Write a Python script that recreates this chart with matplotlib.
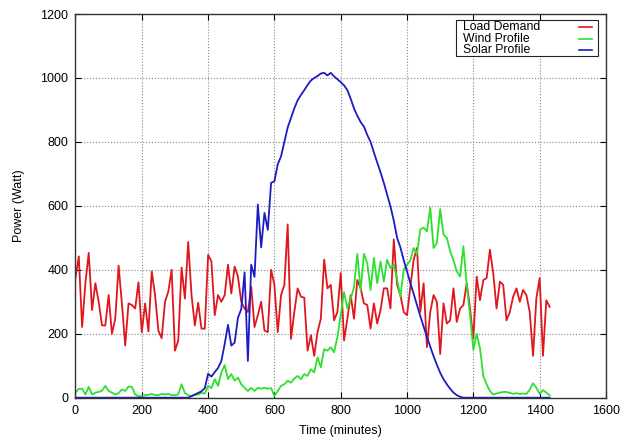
import numpy as np
import matplotlib
matplotlib.use("Agg")
import matplotlib.pyplot as plt
from matplotlib.patches import Rectangle

# Power profiles sampled every 10 minutes over one day
timeMinutes = list(range(0, 1440, 10))

loadDemand = [
    375, 442, 221, 360, 453, 274, 358, 300, 226, 226,
    321, 200, 247, 413, 295, 163, 295, 290, 279, 361,
    205, 295, 207, 395, 321, 210, 186, 300, 332, 400,
    147, 179, 407, 310, 487, 321, 226, 297, 216, 216,
    447, 426, 258, 321, 300, 321, 416, 326, 410, 379,
    300, 279, 268, 347, 221, 258, 300, 210, 205, 400,
    353, 205, 321, 353, 542, 184, 268, 342, 316, 313,
    147, 195, 131, 205, 247, 432, 342, 353, 242, 268,
    390, 179, 247, 321, 247, 368, 342, 295, 290, 216,
    295, 232, 274, 342, 342, 279, 495, 353, 321, 268,
    258, 347, 432, 468, 268, 358, 158, 268, 321, 300,
    137, 295, 232, 242, 342, 237, 279, 290, 358, 279,
    184, 379, 305, 368, 374, 463, 389, 279, 363, 353,
    242, 268, 316, 342, 300, 337, 321, 268, 131, 311,
    374, 131, 305, 284,
]

windProfile = [
    16, 28, 28, 10, 34, 10, 16, 18, 22, 37,
    21, 16, 10, 14, 26, 21, 35, 34, 10, 5,
    5, 8, 9, 12, 8, 8, 12, 10, 12, 8,
    8, 10, 42, 15, 8, 5, 8, 10, 15, 13,
    37, 30, 58, 37, 79, 102, 58, 74, 53, 63,
    42, 31, 21, 31, 21, 31, 28, 31, 28, 30,
    5, 21, 37, 42, 53, 47, 60, 68, 58, 74,
    68, 89, 79, 126, 95, 152, 147, 158, 142, 190,
    260, 330, 280, 310, 345, 450, 335, 450, 421, 337,
    437, 358, 426, 363, 432, 405, 416, 370, 316, 400,
    416, 430, 468, 450, 526, 532, 520, 595, 468, 484,
    590, 510, 500, 458, 430, 395, 379, 474, 353, 258,
    150, 200, 155, 68, 42, 21, 10, 13, 16, 18,
    18, 15, 12, 14, 12, 13, 12, 25, 45, 31,
    12, 24, 16, 8,
]

solarProfile = [
    0, 0, 0, 0, 0, 0, 0, 0, 0, 0,
    0, 0, 0, 0, 0, 0, 0, 0, 0, 0,
    0, 0, 0, 0, 0, 0, 0, 0, 0, 0,
    0, 0, 0, 0, 0, 5, 10, 15, 20, 30,
    75, 66, 80, 93, 115, 168, 228, 163, 172, 250,
    277, 392, 115, 416, 378, 604, 470, 578, 525, 672,
    677, 730, 755, 800, 845, 875, 905, 930, 947, 962,
    978, 992, 1000, 1006, 1014, 1016, 1008, 1016, 1005, 996,
    987, 977, 962, 935, 905, 882, 862, 848, 822, 800,
    767, 736, 705, 672, 635, 598, 554, 500, 470, 430,
    395, 358, 325, 290, 255, 222, 190, 160, 130, 103,
    78, 58, 42, 28, 16, 8, 3, 0, 0, 0,
    0, 0, 0, 0, 0, 0, 0, 0, 0, 0,
    0, 0, 0, 0, 0, 0, 0, 0, 0, 0,
    0, 0, 0, 0,
]

seriesNames = ["Load Demand", "Wind Profile", "Solar Profile"]
seriesColors = ["#e0161c", "#2ee02e", "#1c1cc4"]

xTicks = list(range(0, 1601, 200))
yTicks = list(range(0, 1201, 200))

plt.rcParams['font.family'] = ['Liberation Sans', 'DejaVu Sans']

fig = plt.figure(figsize=(6.29, 4.38), dpi=100)
ax = fig.add_axes([0.1200, 0.092, 0.8434, 0.876])

for values, name, color in zip([loadDemand, windProfile, solarProfile], seriesNames, seriesColors):
    ax.plot(timeMinutes, values, color=color, linewidth=1.3, label=name)

ax.set_xlim(0, 1600)
ax.set_ylim(0, 1200)
ax.set_xticks(xTicks)
ax.set_yticks(yTicks)
ax.tick_params(direction='in', top=True, right=True, labelsize=9, length=4, width=0.8, pad=5)
ax.grid(True, linestyle=':', color='#888888', linewidth=0.8)
ax.set_axisbelow(True)
for spine in ax.spines.values():
    spine.set_color('#333333')
    spine.set_linewidth(1.0)

ax.set_xlabel("Time (minutes)", fontsize=9, labelpad=6)
ax.set_ylabel("Power (Watt)", fontsize=9, labelpad=11)

# Key box: labels on the left, line samples on the right
ax.add_patch(Rectangle((0.717, 0.8905), 0.268, 0.0935, transform=ax.transAxes,
                       facecolor='white', edgecolor='#222222', linewidth=0.8, zorder=5))
rowY = [0.967, 0.936, 0.905]
for y, name, color in zip(rowY, seriesNames, seriesColors):
    ax.text(0.731, y, name, transform=ax.transAxes, fontsize=8.8, va='center', ha='left', zorder=6)
    ax.plot([0.949, 0.974], [y, y], transform=ax.transAxes, color=color, linewidth=1.2, zorder=6)

fig.savefig("out.png", dpi=100)
